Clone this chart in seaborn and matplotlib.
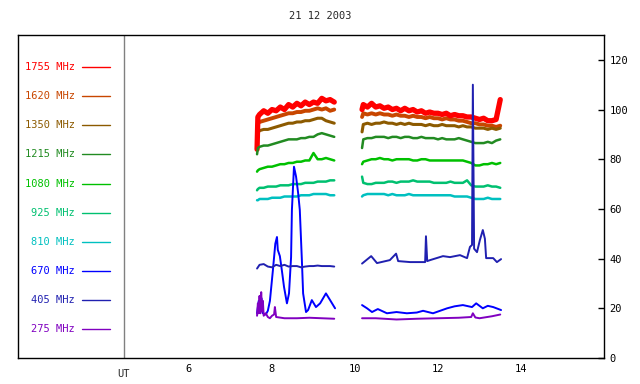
import matplotlib
matplotlib.use("Agg")
import matplotlib.pyplot as plt
import seaborn as sns
import pandas as pd

sns.set_style("white")
plt.rcParams["font.family"] = ["DejaVu Sans Mono"]

title = "21 12 2003"
bands = ["1755 MHz", "1620 MHz", "1350 MHz", "1215 MHz", "1080 MHz",
         "925 MHz", "810 MHz", "670 MHz", "405 MHz", "275 MHz"]
colors = ["#ff0000", "#c84600", "#8c5a00", "#228b22", "#00c000",
          "#00c070", "#00c0c0", "#0000ff", "#2020b0", "#8000c0"]

# common time grids (UT hours)
t1 = [7.64, 7.66, 7.7, 7.8, 7.9, 8.0, 8.1, 8.2, 8.3, 8.4, 8.5, 8.6, 8.7,
      8.8, 8.9, 9.0, 9.1, 9.2, 9.3, 9.4, 9.5]
t2 = [10.17, 10.2, 10.3, 10.4, 10.5, 10.6, 10.7, 10.8, 10.9, 11.0, 11.1,
      11.2, 11.3, 11.4, 11.5, 11.6, 11.7, 11.8, 11.9, 12.0, 12.1, 12.2,
      12.3, 12.4, 12.5, 12.6, 12.7, 12.8, 12.9, 13.0, 13.1, 13.2, 13.3,
      13.4, 13.5]

f1755_a = [84, 97, 98, 99.5, 98.5, 100, 99.5, 101, 100, 102, 101, 102.5, 101.5,
           103, 102, 103, 102.5, 104.5, 103.5, 104, 103]
f1755_b = [100, 102, 101, 102.5, 101, 101.5, 100.5, 101, 100, 100.5, 99.5, 100.5,
           99.5, 100, 99, 99.5, 98.5, 99, 98.5, 98.5, 98, 98.5, 97.5, 98, 97.5,
           97.5, 97, 97, 96.5, 96, 96.5, 95.5, 95.5, 96, 104]
f1620_a = [92, 94.5, 95, 95.5, 96, 96.5, 97, 97.5, 98, 98.5, 98.5, 99, 99, 99.5,
           99.5, 100, 100.5, 100, 100.5, 99.5, 100]
f1620_b = [97, 98.5, 98, 98.5, 98, 98.5, 98, 98, 97.5, 98, 97.5, 97.5, 97, 97.5,
           97, 97, 96.5, 97, 96.5, 96.5, 96, 96.5, 96, 96, 95.5, 95.5, 95, 94.5,
           94.5, 94, 94, 93.5, 93.5, 93, 93.5]
f1350_a = [88, 90.5, 91.5, 92, 92, 92.5, 93, 93.5, 94, 94.5, 94.5, 95, 95, 95.5,
           95.5, 96, 96.5, 96.5, 95.5, 95, 94.5]
f1350_b = [91, 94, 94.5, 94, 94.5, 94.5, 95, 94.5, 94.5, 94, 94.5, 94, 94.5, 94,
           94, 94, 93.5, 94, 93.5, 93.5, 94, 93.5, 93.5, 93.5, 93, 93.5, 93, 93,
           92.5, 92.5, 92.5, 92, 92.5, 92, 92.5]
f1215_a = [82, 84.5, 85, 85.5, 85.5, 86, 86.5, 87, 87.5, 88, 88, 88, 88.5, 88.5,
           89, 89, 90, 90.5, 90, 89.5, 89]
f1215_b = [84.5, 88, 88.5, 88.5, 89, 89, 89, 88.5, 89, 89, 88.5, 89, 89, 88.5,
           88.5, 89, 88.5, 88.5, 88.5, 88, 88.5, 88, 88, 88, 88.5, 88, 87.5, 87,
           86.5, 86.5, 86.5, 87, 86.5, 87.5, 88]
f1080_a = [75, 75.5, 76, 76.5, 77, 77, 77.5, 78, 78, 78.5, 78.5, 79, 79, 79.5,
           79.5, 82.5, 80, 80, 80.5, 80, 79.5]
f1080_b = [78, 79, 79.5, 80, 80, 80.5, 80, 80, 79.5, 80, 80, 80, 80, 79.5, 79.5,
           80, 80, 79.5, 79.5, 79.5, 79.5, 79.5, 79.5, 79.5, 79.5, 79.5, 79, 78.5,
           77.5, 77.5, 78, 78, 78.5, 78, 78.5]
f925_a = [67.5, 68, 68.5, 68.5, 69, 69, 69, 69.5, 69.5, 69.5, 70, 70, 70, 70.5,
          70.5, 70.5, 71, 71, 71, 71.5, 71.5]
f925_b = [73, 70.5, 70, 70, 70.5, 70.5, 70.5, 71, 71, 70.5, 71, 71, 71, 71.5, 71,
          71, 71, 71, 70.5, 70.5, 70.5, 70.5, 71, 70.5, 70.5, 70.5, 71.5, 69.5,
          69, 69, 69, 69.5, 69, 69, 68.5]
f810_a = [63.5, 63.5, 64, 64, 64, 64.5, 64.5, 64.5, 65, 65, 65, 65, 65.5, 65.5,
          65.5, 66, 66, 66, 66, 65.5, 65.5]
f810_b = [65, 65.5, 66, 66, 66, 66, 66, 65.5, 66, 65.5, 65.5, 65.5, 66, 65.5,
          65.5, 65.5, 65.5, 65.5, 65.5, 65.5, 65.5, 65.5, 65.5, 65, 65, 65, 65,
          64.5, 64, 64, 64, 64.5, 64, 64, 64]
f405_a = [36, 36.5, 37.5, 37.8, 36.8, 36.5, 37.5, 37, 37.5, 36.8, 37, 37, 36.5,
          36.8, 37, 37, 37.2, 37, 37, 37, 36.8]

# bands with bursts have their own time samples
t670_a = [7.64, 7.68, 7.71, 7.75, 7.78, 7.85, 7.9, 7.95, 8.02, 8.08, 8.12, 8.14,
          8.19, 8.24, 8.29, 8.36, 8.41, 8.46, 8.48, 8.53, 8.58, 8.63, 8.67, 8.72,
          8.75, 8.82, 8.87, 8.96, 9.06, 9.16, 9.3, 9.4, 9.52]
f670_a = [18, 23, 20, 24, 18, 17.5, 19, 23, 35, 46, 48.7, 43.5, 41, 35, 28.6,
          22, 26, 40.6, 59.6, 77, 73, 66.4, 59.6, 39.4, 26, 18.5, 19.3, 23.3,
          20.5, 22, 26, 23.3, 20]
t670_b = [10.17, 10.29, 10.41, 10.55, 10.77, 11.0, 11.25, 11.49, 11.64, 11.88,
          12.05, 12.22, 12.4, 12.6, 12.82, 12.92, 13.08, 13.2, 13.33, 13.52]
f670_b = [21.3, 20, 18.5, 19.7, 18, 18.5, 18, 18.3, 19, 18, 19, 20, 20.8, 21.3,
          20.5, 22, 20, 21, 20.5, 19.3]
t405_b = [10.17, 10.39, 10.53, 10.84, 10.99, 11.04, 11.33, 11.69, 11.71, 11.74,
          11.81, 12.12, 12.29, 12.53, 12.7, 12.77, 12.82, 12.84, 12.87, 12.94,
          13.01, 13.08, 13.13, 13.16, 13.33, 13.42, 13.52]
f405_b = [38, 41, 38.2, 39.4, 42, 39, 38.6, 38.6, 49, 39, 39.4, 41, 40.6, 41.4,
          40.2, 44.7, 45.5, 110, 44, 42.6, 47.5, 51.5, 48, 40.2, 40.2, 38.6, 39.8]
t275_a = [7.64, 7.66, 7.68, 7.7, 7.72, 7.74, 7.76, 7.78, 7.8, 7.85, 7.9, 7.95,
          8.0, 8.05, 8.07, 8.1, 8.3, 8.6, 8.9, 9.2, 9.5]
f275_a = [17, 22, 18, 25, 18, 26.5, 19, 23, 17, 18, 16.5, 16, 17, 17.5, 20.5,
          16.5, 16, 16, 16.2, 16, 15.8]
t275_b = [10.17, 10.5, 11.0, 11.5, 12.0, 12.5, 12.8, 12.84, 12.9, 13.0, 13.3, 13.5]
f275_b = [16, 16, 15.5, 15.8, 16, 16.2, 16.5, 18, 16.3, 16, 16.8, 17.5]

series = {
    "1755 MHz": [(t1, f1755_a), (t2, f1755_b)],
    "1620 MHz": [(t1, f1620_a), (t2, f1620_b)],
    "1350 MHz": [(t1, f1350_a), (t2, f1350_b)],
    "1215 MHz": [(t1, f1215_a), (t2, f1215_b)],
    "1080 MHz": [(t1, f1080_a), (t2, f1080_b)],
    "925 MHz": [(t1, f925_a), (t2, f925_b)],
    "810 MHz": [(t1, f810_a), (t2, f810_b)],
    "670 MHz": [(t670_a, f670_a), (t670_b, f670_b)],
    "405 MHz": [(t1, f405_a), (t405_b, f405_b)],
    "275 MHz": [(t275_a, f275_a), (t275_b, f275_b)],
}
widths = {"1755 MHz": 3.8, "1620 MHz": 2.8, "1350 MHz": 2.2, "1215 MHz": 1.8,
          "1080 MHz": 1.8, "925 MHz": 1.8, "810 MHz": 1.8}
draw_order = ["1620 MHz", "1350 MHz", "1755 MHz", "1215 MHz", "1080 MHz",
              "925 MHz", "810 MHz", "670 MHz", "405 MHz", "275 MHz"]
color_of = dict(zip(bands, colors))

fig = plt.figure(figsize=(6.4, 3.84), dpi=100)
ax = fig.add_axes([18 / 640, 26 / 384, 586 / 640, 323 / 384])

for band in draw_order:
    for seg, (tt, ff) in enumerate(series[band]):
        df = pd.DataFrame({"time": tt, "flux": ff})
        sns.lineplot(data=df, x="time", y="flux", color=color_of[band],
                     lw=widths.get(band, 1.4), sort=False, estimator=None, ax=ax)

ax.set_xlim(1.88, 16.0)
ax.set_ylim(0, 130)
ax.set_xlabel("")
ax.set_ylabel("")
ax.set_xticks([6, 8, 10, 12, 14])
ax.set_yticks([0, 20, 40, 60, 80, 100, 120])
ax.yaxis.tick_right()
ax.tick_params(axis="both", direction="in", length=4, width=1, labelsize=7.5,
               colors="black", pad=4)
for sp in ax.spines.values():
    sp.set_color("black")
    sp.set_linewidth(1)

# separator between legend panel and data
ax.axvline(4.434, color="#808080", lw=1)
ax.text(4.434, -4.5, "UT", ha="center", va="top", fontsize=7.5)

# legend panel on the left
for k, band in enumerate(bands):
    yk = 117.1 - k * 11.72
    ax.text(3.25, yk, band, ha="right", va="center", fontsize=7.5,
            color=color_of[band])
    ax.plot([3.42, 4.096], [yk, yk], color=color_of[band], lw=1)

fig.text(0.5, 1 - 16 / 384, title, ha="center", va="center", fontsize=7.5)

fig.savefig("out.png", dpi=100)
